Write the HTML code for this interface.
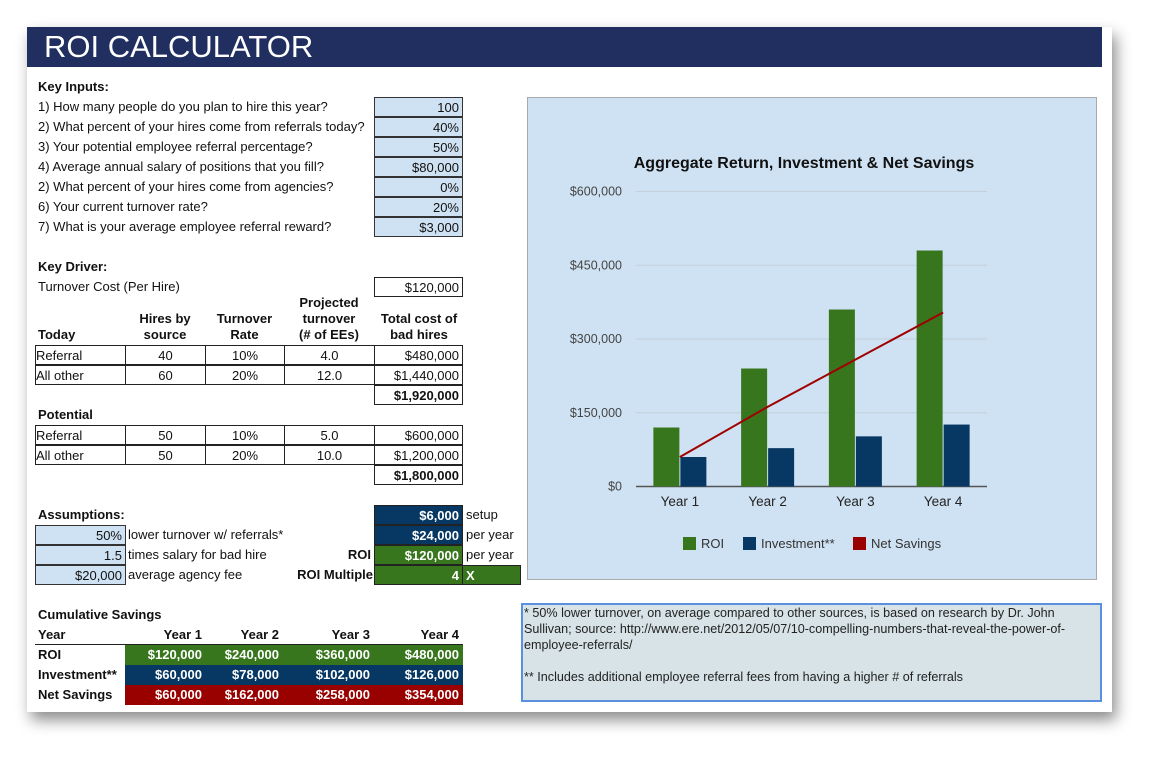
<!DOCTYPE html>
<html><head><meta charset="utf-8"><style>
body{margin:0;width:1165px;height:765px;background:#fff;position:relative;overflow:hidden;font-family:"Liberation Sans",Arial,sans-serif;font-size:13px;color:#111}
.sheet{position:absolute;left:27px;top:27px;width:1085px;height:685px;background:#fff;box-shadow:4px 8px 14px rgba(0,0,0,.45)}
.a{position:absolute;height:20px;line-height:20px;white-space:nowrap;box-sizing:border-box}
.b{font-weight:bold}
.r{text-align:right;padding-right:3px}
.c{text-align:center}
.in{background:#cfe2f3;border:1px solid #333}
.bx{border:1px solid #222}
.dk{background:#073763;color:#fff;font-weight:bold}
.gr{background:#38761d;color:#fff;font-weight:bold}
.rd{background:#990000;color:#fff;font-weight:bold}
</style></head><body>
<div class="sheet"></div>
<div style="position:absolute;left:27px;top:27px;width:1075px;height:40px;background:#202f5f;color:#fff;font-size:31px;line-height:40px;padding-left:17px;box-sizing:border-box">ROI CALCULATOR</div>

<div class="a b" style="left:38px;top:77px">Key Inputs:</div>
<div class="a" style="left:38px;top:97px">1) How many people do you plan to hire this year?</div>
<div class="a" style="left:38px;top:117px">2) What percent of your hires come from referrals today?</div>
<div class="a" style="left:38px;top:137px">3) Your potential employee referral percentage?</div>
<div class="a" style="left:38px;top:157px">4) Average annual salary of positions that you fill?</div>
<div class="a" style="left:38px;top:177px">2) What percent of your hires come from agencies?</div>
<div class="a" style="left:38px;top:197px">6) Your current turnover rate?</div>
<div class="a" style="left:38px;top:217px">7) What is your average employee referral reward?</div>
<div class="a r in" style="left:374px;top:97px;width:89px">100</div>
<div class="a r in" style="left:374px;top:117px;width:89px">40%</div>
<div class="a r in" style="left:374px;top:137px;width:89px">50%</div>
<div class="a r in" style="left:374px;top:157px;width:89px">$80,000</div>
<div class="a r in" style="left:374px;top:177px;width:89px">0%</div>
<div class="a r in" style="left:374px;top:197px;width:89px">20%</div>
<div class="a r in" style="left:374px;top:217px;width:89px">$3,000</div>

<div class="a b" style="left:38px;top:257px">Key Driver:</div>
<div class="a" style="left:38px;top:277px">Turnover Cost (Per Hire)</div>
<div class="a r bx" style="left:374px;top:277px;width:89px">$120,000</div>

<div class="a b c" style="left:284px;top:293px;width:90px">Projected</div>
<div class="a b c" style="left:125px;top:309px;width:80px">Hires by</div>
<div class="a b c" style="left:205px;top:309px;width:79px">Turnover</div>
<div class="a b c" style="left:284px;top:309px;width:90px">turnover</div>
<div class="a b c" style="left:374px;top:309px;width:90px">Total cost of</div>
<div class="a b" style="left:38px;top:325px">Today</div>
<div class="a b c" style="left:125px;top:325px;width:80px">source</div>
<div class="a b c" style="left:205px;top:325px;width:79px">Rate</div>
<div class="a b c" style="left:284px;top:325px;width:90px">(# of EEs)</div>
<div class="a b c" style="left:374px;top:325px;width:90px">bad hires</div>

<div id="tables"></div>

<div class="a b" style="left:38px;top:405px">Potential</div>

<div class="a b" style="left:38px;top:505px">Assumptions:</div>
<div class="a r in" style="left:35px;top:525px;width:91px">50%</div>
<div class="a r in" style="left:35px;top:545px;width:91px">1.5</div>
<div class="a r in" style="left:35px;top:565px;width:91px">$20,000</div>
<div class="a" style="left:128px;top:525px">lower turnover w/ referrals*</div>
<div class="a" style="left:128px;top:545px">times salary for bad hire</div>
<div class="a" style="left:128px;top:565px">average agency fee</div>
<div class="a r dk bx" style="left:374px;top:505px;width:89px">$6,000</div>
<div class="a r dk bx" style="left:374px;top:525px;width:89px">$24,000</div>
<div class="a r gr bx" style="left:374px;top:545px;width:89px">$120,000</div>
<div class="a r gr bx" style="left:374px;top:565px;width:89px">4</div>
<div class="a gr bx" style="left:462px;top:565px;width:59px;padding-left:3px">X</div>
<div class="a" style="left:466px;top:505px">setup</div>
<div class="a" style="left:466px;top:525px">per year</div>
<div class="a" style="left:466px;top:545px">per year</div>
<div class="a b r" style="left:250px;top:545px;width:124px">ROI</div>
<div class="a b r" style="left:250px;top:565px;width:124px;padding-right:1px">ROI Multiple</div>

<div class="a b" style="left:38px;top:605px">Cumulative Savings</div>
<div class="a b" style="left:38px;top:625px">Year</div>
<div id="cum"></div>

<div style="position:absolute;left:527px;top:97px;width:570px;height:483px;background:#cfe2f3;border:1px solid #aaa;box-sizing:border-box"></div>
<svg id="chart" style="position:absolute;left:0;top:0" width="1165" height="765"></svg>

<div style="position:absolute;left:521px;top:603px;width:581px;height:99px;background:#d7e3e6;border:2px solid #5b8fe0;box-sizing:border-box;padding:0 14px 0 1px;line-height:16px;font-size:12.6px;color:#222">* 50% lower turnover, on average compared to other sources, is based on research by Dr. John Sullivan; source: http://www.ere.net/2012/05/07/10-compelling-numbers-that-reveal-the-power-of-employee-referrals/<br><br>** Includes additional employee referral fees from having a higher # of referrals</div>

<script>
var tb=document.getElementById('tables');
function cell(p,cls,x,y,w,txt,name){var d=document.createElement('div');d.className='a '+cls;d.style.left=x+'px';d.style.top=y+'px';d.style.width=w+'px';d.textContent=txt;


p.appendChild(d);}
var rowsT=[['Referral','40','10%','4.0','$480,000'],['All other','60','20%','12.0','$1,440,000']];
var rowsP=[['Referral','50','10%','5.0','$600,000'],['All other','50','20%','10.0','$1,200,000']];
var cx=[35,125,205,284,374],cw=[91,81,80,91,89];
function tbl(rows,y0,total){rows.forEach(function(r,i){r.forEach(function(v,j){cell(tb,'bx '+(j==0?'':j==4?'r':'c'),cx[j],y0+i*20,cw[j],v,'table-cell');});});
cell(tb,'bx b r',374,y0+40,89,total,'table-total');}
tbl(rowsT,345,'$1,920,000');tbl(rowsP,425,'$1,800,000');
var cum=document.getElementById('cum');
var years=['Year 1','Year 2','Year 3','Year 4'];
var colR=[205,282,373,462];
years.forEach(function(y,i){cell(cum,'b r',colR[i]-80,625,80,y,'year-col-header');});
var sp=document.createElement('div');sp.style.cssText='position:absolute;left:35px;top:644px;width:428px;height:1px;background:#222';


cum.appendChild(sp);
var cumRows=[['ROI','gr',['$120,000','$240,000','$360,000','$480,000']],['Investment**','dk',['$60,000','$78,000','$102,000','$126,000']],['Net Savings','rd',['$60,000','$162,000','$258,000','$354,000']]];
cumRows.forEach(function(r,i){var y=645+i*20;cell(cum,'b',38,y,86,r[0],'row-label');
var bg=document.createElement('div');bg.className='a '+r[1];bg.style.cssText+='left:125px;top:'+y+'px;width:338px';


cum.appendChild(bg);
r[2].forEach(function(v,j){cell(cum,r[1]+' r',colR[j]-80,y,80,v,'cum-value');});});

var categories=['Year 1','Year 2','Year 3','Year 4'];
var roiValues=[120000,240000,360000,480000];
var investmentValues=[60000,78000,102000,126000];
var netSavingsValues=[60000,162000,258000,354000];
var tickValues=[0,150000,300000,450000,600000];
var tickLabels=['$0','$150,000','$300,000','$450,000','$600,000'];

var svg=document.getElementById('chart'),NS='http://www.w3.org/2000/svg';
var X0=636,X1=987,Y0=486.5,Y1=191.5,YMAX=600000;
function yS(v){return Y0-(v/YMAX)*(Y0-Y1);}
function xC(i){return X0+(i+0.5)*(X1-X0)/categories.length;}
function el(t,a,txt){var e=document.createElementNS(NS,t);for(var k in a)e.setAttribute(k,a[k]);if(txt!==undefined)e.textContent=txt;svg.appendChild(e);return e;}
var tt=el('text',{x:804,y:168,'text-anchor':'middle','font-size':16,'font-weight':'bold',fill:'#111','font-family':'Liberation Sans, sans-serif'},'Aggregate Return, Investment & Net Savings');


tickValues.forEach(function(v,i){
var g=el('line',{x1:X0,x2:X1,y1:yS(v),y2:yS(v),stroke:i==0?'#555':'#c4cfd9','stroke-width':i==0?1.5:1});


var t=el('text',{x:622,y:yS(v)+4,'text-anchor':'end','font-size':12.5,fill:'#444','font-family':'Liberation Sans, sans-serif'},tickLabels[i]);

});
categories.forEach(function(c,i){var cx=xC(i);
var b1=el('rect',{x:cx-26.5,y:yS(roiValues[i]),width:26,height:Y0-yS(roiValues[i]),fill:'#38761d'});


var b2=el('rect',{x:cx+0.5,y:yS(investmentValues[i]),width:26,height:Y0-yS(investmentValues[i]),fill:'#073763'});


var t=el('text',{x:cx,y:506,'text-anchor':'middle','font-size':13.5,fill:'#222','font-family':'Liberation Sans, sans-serif'},c);

});
var pts=netSavingsValues.map(function(v,i){return xC(i)+','+yS(v);}).join(' ');
var pl=el('polyline',{points:pts,fill:'none',stroke:'#a00000','stroke-width':2});


var legend=[['ROI','#38761d',683],['Investment**','#073763',743],['Net Savings','#990000',853]];
legend.forEach(function(l){var r=el('rect',{x:l[2],y:537,width:13,height:13,fill:l[1]});


var t=el('text',{x:l[2]+18,y:548,'font-size':13,fill:'#333','font-family':'Liberation Sans, sans-serif'},l[0]);

});
</script>
</body></html>
